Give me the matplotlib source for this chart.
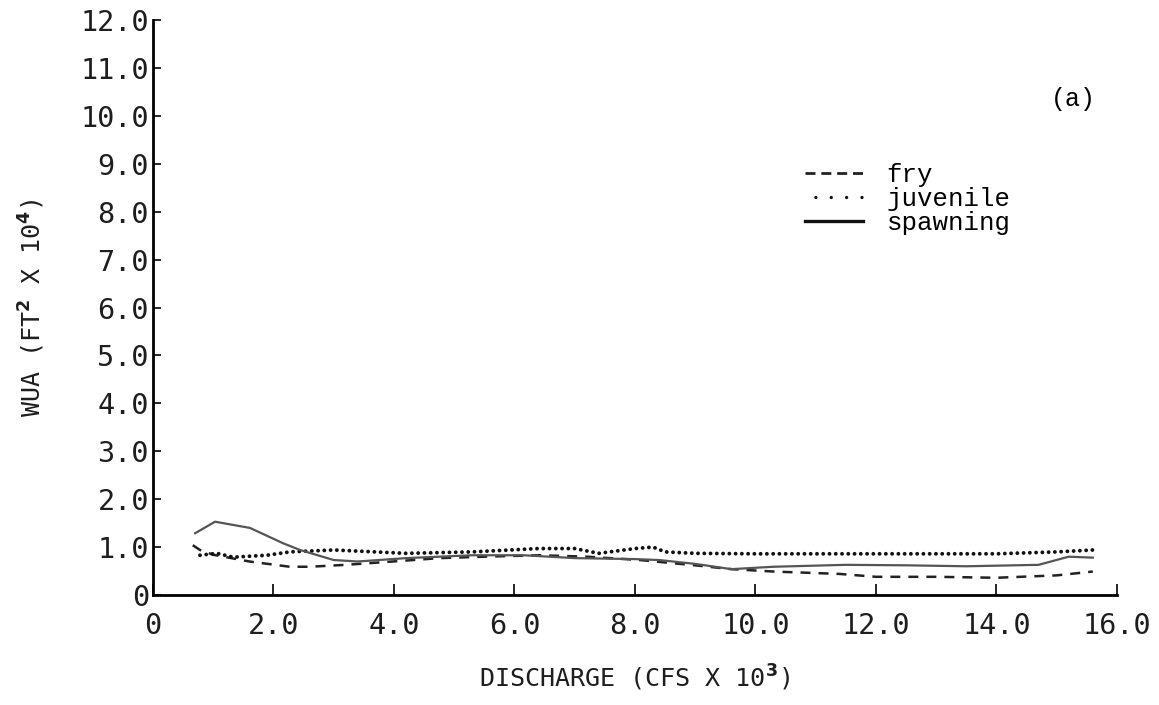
import matplotlib
matplotlib.use("Agg")
import matplotlib.pyplot as plt
from matplotlib.lines import Line2D

# values (discharge in cfs x 10^3, WUA in ft^2 x 10^4)
fry_x = [0.66, 0.78, 1.0, 1.6, 2.27, 2.6, 3.2, 3.65, 4.76, 5.5, 6.42, 7.2, 8.08, 9.0, 9.6,
         10.3, 11.4, 12.0, 13.0, 14.0, 15.0, 15.6]
fry_y = [1.04, 0.94, 0.84, 0.7, 0.59, 0.59, 0.63, 0.67, 0.77, 0.8, 0.83, 0.8, 0.73, 0.62, 0.54,
         0.49, 0.44, 0.38, 0.38, 0.36, 0.41, 0.49]

juv_x = [0.78, 1.06, 1.33, 1.89, 2.27, 3.0, 4.2, 5.3, 6.4, 7.0, 7.4, 8.0, 8.3, 8.5, 9.0,
         10.0, 12.0, 14.0, 15.0, 15.6]
juv_y = [0.83, 0.87, 0.79, 0.83, 0.9, 0.94, 0.87, 0.9, 0.97, 0.97, 0.87, 0.97, 1.0, 0.9, 0.87,
         0.86, 0.86, 0.86, 0.9, 0.94]

spawn_x = [0.7, 1.03, 1.61, 2.16, 2.44, 3.0, 3.4, 4.2, 5.3, 6.15, 7.0, 8.0, 8.4, 9.0, 9.6, 10.3,
           11.5, 12.5, 13.5, 14.7, 15.2, 15.6]
spawn_y = [1.29, 1.53, 1.4, 1.08, 0.94, 0.73, 0.7, 0.77, 0.83, 0.83, 0.77, 0.75, 0.73, 0.65, 0.54, 0.59,
           0.63, 0.62, 0.6, 0.63, 0.8, 0.78]

x_ticks = [0, 2, 4, 6, 8, 10, 12, 14, 16]
x_labels = ["0", "2.0", "4.0", "6.0", "8.0", "10.0", "12.0", "14.0", "16.0"]
y_ticks = list(range(13))
y_labels = ["0"] + [f"{v}.0" for v in range(1, 13)]

mono = "DejaVu Sans Mono"
typewriter = "Liberation Mono"
ink = "#1e1e1e"

fig = plt.figure(figsize=(11.59, 7.05), dpi=100)
ax = fig.add_axes([0.132, 0.156, 0.8317, 0.8156])

# curves
ax.plot(fry_x, fry_y, color="#222222", lw=1.8, linestyle=(0, (4, 3.2)))
ax.plot(juv_x, juv_y, color="#111111", lw=2.8, linestyle=(0, (0.01, 1.6)),
        dash_capstyle="round")
ax.plot(spawn_x, spawn_y, color="#555555", lw=1.6)

ax.set_xlim(0, 16)
ax.set_ylim(0, 12)
ax.spines["top"].set_visible(False)
ax.spines["right"].set_visible(False)
ax.spines["left"].set_linewidth(2)
ax.spines["bottom"].set_linewidth(2)

ax.set_xticks(x_ticks)
ax.set_xticklabels(x_labels, fontfamily=mono, fontsize=20.5, color=ink)
ax.set_yticks(y_ticks)
ax.set_yticklabels(y_labels, fontfamily=mono, fontsize=20.5, color=ink)
ax.tick_params(axis="x", direction="in", length=8, width=1.2, pad=12)
ax.tick_params(axis="y", direction="in", length=6, width=1.2, pad=3)

ax.set_xlabel("DISCHARGE (CFS X 10$^{\\mathbf{3}}$)", fontfamily=mono, fontsize=18,
              color=ink, labelpad=17)
ax.set_ylabel("WUA (FT$^{\\mathbf{2}}$ X 10$^{\\mathbf{4}}$)", fontfamily=mono, fontsize=18,
              color=ink, labelpad=24)

# legend with its own handle styles (spacing as printed in the key)
handles = [
    Line2D([], [], color="#222222", lw=2.0, linestyle=(0, (3.6, 2.1))),
    Line2D([], [], color="#111111", lw=2.4, linestyle=(1.5, (0.01, 4.6)), dash_capstyle="round"),
    Line2D([], [], color="#111111", lw=2.4),
]
ax.legend(handles, ["fry", "juvenile", "spawning"], loc="upper left",
          bbox_to_anchor=(0.676, 0.752), frameon=False, borderpad=0, borderaxespad=0,
          handlelength=2.26, handletextpad=0.93, labelspacing=0.0,
          prop={"family": typewriter, "size": 18.5})

ax.text(0.955, 0.862, "(a)", transform=ax.transAxes, ha="center", va="center",
        fontfamily=typewriter, fontsize=18)

fig.savefig("out.png", dpi=100)
